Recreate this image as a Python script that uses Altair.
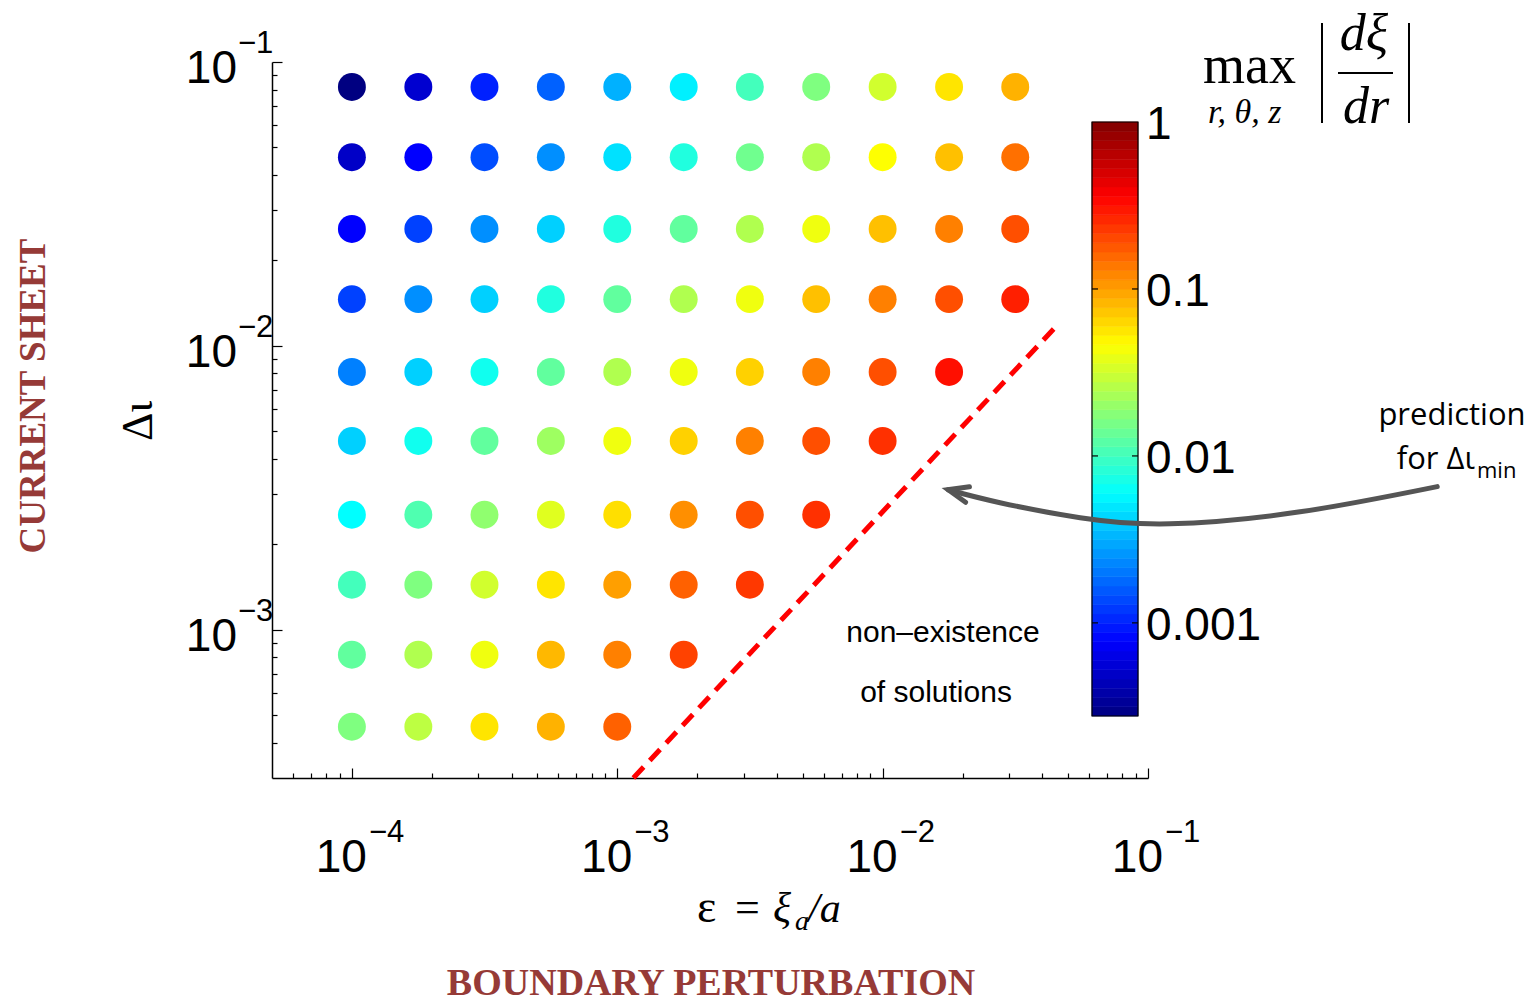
import math

import altair as alt
import pandas as pd

# ---------------------------------------------------------------- data ----
# boundary perturbation amplitude (columns) and current-sheet width (rows)
EPSILON = [1.0e-4, 1.78e-4, 3.16e-4, 5.62e-4, 1.0e-3, 1.78e-3,
           3.16e-3, 5.62e-3, 1.0e-2, 1.78e-2, 3.16e-2]
DELTA_IOTA = [8.17e-2, 4.62e-2, 2.58e-2, 1.46e-2, 8.09e-3,
              4.62e-3, 2.54e-3, 1.44e-3, 8.16e-4, 4.55e-4]

# max |d xi / dr| for every converged case, one list per row (top to bottom)
MAX_SLOPE = [
    [2.8e-4, 5.3e-4, 1.0e-3, 1.68e-3, 3.2e-3, 5.3e-3, 1.02e-2, 1.66e-2, 3.2e-2, 5.7e-2, 8.6e-2],
    [4.9e-4, 7.7e-4, 1.43e-3, 2.43e-3, 4.7e-3, 7.7e-3, 1.47e-2, 2.45e-2, 4.6e-2, 7.7e-2, 0.146],
    [7.7e-4, 1.3e-3, 2.43e-3, 4.1e-3, 7.7e-3, 1.30e-2, 2.45e-2, 4.1e-2, 7.7e-2, 0.129, 0.19],
    [1.3e-3, 2.43e-3, 4.1e-3, 7.7e-3, 1.30e-2, 2.45e-2, 4.1e-2, 7.7e-2, 0.129, 0.19, 0.279],
    [2.15e-3, 4.1e-3, 6.8e-3, 1.30e-2, 2.45e-2, 4.1e-2, 6.7e-2, 0.129, 0.19, 0.318],
    [4.1e-3, 6.8e-3, 1.30e-2, 2.13e-2, 4.1e-2, 6.7e-2, 0.129, 0.19, 0.244],
    [6.0e-3, 1.13e-2, 1.90e-2, 3.6e-2, 6.0e-2, 0.114, 0.19, 0.244],
    [1.02e-2, 1.66e-2, 3.2e-2, 5.7e-2, 0.1, 0.165, 0.229],
    [1.30e-2, 2.45e-2, 4.1e-2, 8.2e-2, 0.129, 0.211],
    [1.66e-2, 2.72e-2, 5.7e-2, 8.6e-2, 0.165],
]

# predicted minimum current-sheet width
PREDICTION_EPS = [1.15e-3, 4.58e-2]
PREDICTION_IOTA = [3.0e-4, 1.19e-2]

# annotation arrow pointing at the prediction line
ARROW_EPS = [1.23, 0.374, 0.121, 0.0555, 0.0277, 0.01764]
ARROW_IOTA = [3.19e-3, 2.60e-3, 2.36e-3, 2.48e-3, 2.80e-3, 3.11e-3]
ARROW_HEAD_EPS = [0.0192]
ARROW_HEAD_IOTA = [3.05e-3]

# axis ticks
X_TICKS = [1e-4, 1e-3, 1e-2, 1e-1]
X_EXPONENTS = ["\u22124", "\u22123", "\u22122", "\u22121"]
Y_TICKS = [1e-3, 1e-2, 1e-1]
Y_EXPONENTS = ["\u22123", "\u22122", "\u22121"]
MULTIPLIERS = [2, 3, 4, 5, 6, 7, 8, 9]
X_MINOR = [6e-5, 7e-5, 8e-5, 9e-5] + [m * d for d in (1e-4, 1e-3, 1e-2) for m in MULTIPLIERS]
Y_MINOR = [4e-4, 5e-4, 6e-4, 7e-4, 8e-4, 9e-4] + [m * d for d in (1e-3, 1e-2) for m in MULTIPLIERS]

# colour bar
COLORBAR_MIN, COLORBAR_MAX = 2.77e-4, 1.0
COLORBAR_TICKS = [0.001, 0.01, 0.1]
COLORBAR_LABELS = ["1", "0.1", "0.01", "0.001"]
COLORBAR_LABEL_VALUES = [1.0, 0.1, 0.01, 0.001]
COLORBAR_BANDS = 64
JET_POSITIONS = [0.0, 0.125, 0.375, 0.625, 0.875, 1.0]
JET_COLORS = ["#000080", "#0000ff", "#00ffff", "#ffff00", "#ff0000", "#800000"]

# ------------------------------------------------------------- styling ----
SANS = "Liberation Sans"
SERIF = "Liberation Serif"
CALLOUT = "Open Sans"
DARK_RED = "#963a37"
GREY = "#555555"
W, H = 876, 716
CB_LEFT, CB_RIGHT, CB_TOP, CB_BOTTOM = 820, 866, 60, 654

dots_df = pd.DataFrame(
    [{"eps": EPSILON[j], "iota": DELTA_IOTA[i], "slope": v}
     for i, row in enumerate(MAX_SLOPE) for j, v in enumerate(row)]
)
pred_df = pd.DataFrame({"eps": PREDICTION_EPS, "iota": PREDICTION_IOTA})
arrow_df = pd.DataFrame({"eps": ARROW_EPS, "iota": ARROW_IOTA, "k": range(len(ARROW_EPS))})
head_df = pd.DataFrame({"eps": ARROW_HEAD_EPS, "iota": ARROW_HEAD_IOTA})
xlab_df = pd.DataFrame({"tick": X_TICKS, "base": ["10"] * len(X_TICKS), "exp": X_EXPONENTS})
ylab_df = pd.DataFrame({"tick": Y_TICKS, "base": ["10"] * len(Y_TICKS), "exp": Y_EXPONENTS})

lo, hi = COLORBAR_MIN, COLORBAR_MAX
edges = [lo * (hi / lo) ** (i / COLORBAR_BANDS) for i in range(COLORBAR_BANDS + 1)]
bands_df = pd.DataFrame({
    "lo": edges[:-1], "hi": edges[1:],
    "slope": [math.sqrt(a * b) for a, b in zip(edges[:-1], edges[1:])],
})
frame_df = pd.DataFrame({"lo": [lo], "hi": [hi]})
cb_tick_df = pd.DataFrame({"v": COLORBAR_TICKS})
cb_label_df = pd.DataFrame({"v": COLORBAR_LABEL_VALUES, "label": COLORBAR_LABELS})

x_scale = alt.Scale(type="log", domain=[5e-5, 0.1], nice=False)
y_scale = alt.Scale(type="log", domain=[3e-4, 0.1], nice=False)
cb_scale = alt.Scale(type="log", domain=[lo, hi], range=[CB_BOTTOM, CB_TOP], nice=False)

# jet colormap laid out on a log axis between the colour-bar limits
jet_domain = [lo * (hi / lo) ** p for p in JET_POSITIONS]
color_scale = alt.Scale(type="log", domain=jet_domain, range=JET_COLORS, interpolate="rgb")


def frame_axis(orient):
    return alt.Axis(orient=orient, domain=True, domainColor="black", domainWidth=1.5,
                    ticks=False, labels=False, grid=False, title=None)


def tick_axis(orient, values, size):
    # ticks drawn inward by pulling the axis back into the plot
    return alt.Axis(orient=orient, values=values, domain=False, ticks=True,
                    tickSize=size, tickColor="black", tickWidth=1.2, offset=-size,
                    labels=False, grid=False, title=None)


one = alt.Data(values=[{}])

dots = alt.Chart(dots_df).mark_circle(size=780, opacity=1).encode(
    x=alt.X("eps:Q", scale=x_scale, axis=frame_axis("bottom")),
    y=alt.Y("iota:Q", scale=y_scale, axis=frame_axis("left")),
    color=alt.Color("slope:Q", scale=color_scale, legend=None),
)

prediction = alt.Chart(pred_df).mark_line(
    color="#ff0000", strokeWidth=5, strokeDash=[15, 9]
).encode(
    x=alt.X("eps:Q", scale=x_scale, axis=tick_axis("bottom", X_TICKS, 10)),
    y=alt.Y("iota:Q", scale=y_scale, axis=tick_axis("left", Y_TICKS, 10)),
)

# colour bar: 64 jet bands, frame, ticks and labels
cb_bands = alt.Chart(bands_df).mark_rect(strokeWidth=0.6).encode(
    x=alt.value(CB_LEFT), x2=alt.value(CB_RIGHT),
    y=alt.Y("lo:Q", scale=cb_scale, axis=None), y2="hi:Q",
    color=alt.Color("slope:Q", scale=color_scale, legend=None),
    stroke=alt.Stroke("slope:Q", scale=color_scale, legend=None),
)
cb_frame = alt.Chart(frame_df).mark_rect(filled=False, stroke="black", strokeWidth=1.2).encode(
    x=alt.value(CB_LEFT), x2=alt.value(CB_RIGHT),
    y=alt.Y("lo:Q", scale=cb_scale, axis=None), y2="hi:Q",
)
cb_ticks_left = alt.Chart(cb_tick_df).mark_rule(color="black", strokeWidth=1.2).encode(
    x=alt.value(CB_LEFT), x2=alt.value(CB_LEFT + 6),
    y=alt.Y("v:Q", scale=cb_scale, axis=None),
)
cb_ticks_right = alt.Chart(cb_tick_df).mark_rule(color="black", strokeWidth=1.2).encode(
    x=alt.value(CB_RIGHT - 6), x2=alt.value(CB_RIGHT),
    y=alt.Y("v:Q", scale=cb_scale, axis=None),
)
cb_labels = alt.Chart(cb_label_df).mark_text(
    font=SANS, fontSize=46, align="left", baseline="middle", dy=3, color="black"
).encode(
    x=alt.value(CB_RIGHT + 8),
    y=alt.Y("v:Q", scale=cb_scale, axis=None),
    text="label:N",
)

arrow = alt.Chart(arrow_df).mark_line(
    color=GREY, strokeWidth=5, interpolate="natural", strokeCap="round"
).encode(
    x=alt.X("eps:Q", scale=x_scale, axis=tick_axis("bottom", X_MINOR, 5)),
    y=alt.Y("iota:Q", scale=y_scale, axis=tick_axis("left", Y_MINOR, 5)),
    order="k:Q",
)

arrow_head = alt.Chart(head_df).mark_point(
    shape="M 1 -0.8 L -1 0 L 1 0.8", size=400, angle=14, filled=False,
    strokeWidth=5, color=GREY, opacity=1, strokeCap="round", strokeJoin="miter",
).encode(
    x=alt.X("eps:Q", scale=x_scale, axis=None),
    y=alt.Y("iota:Q", scale=y_scale, axis=None),
)

# tick labels as powers of ten
x_base = alt.Chart(xlab_df).mark_text(
    font=SANS, fontSize=46, align="right", baseline="alphabetic", dx=15, color="black"
).encode(x=alt.X("tick:Q", scale=x_scale, axis=None), y=alt.value(810), text="base:N")
x_exp = alt.Chart(xlab_df).mark_text(
    font=SANS, fontSize=31, align="left", baseline="alphabetic", dx=17, color="black"
).encode(x=alt.X("tick:Q", scale=x_scale, axis=None), y=alt.value(780), text="exp:N")
y_base = alt.Chart(ylab_df).mark_text(
    font=SANS, fontSize=46, align="right", baseline="alphabetic", dy=21, color="black"
).encode(y=alt.Y("tick:Q", scale=y_scale, axis=None), x=alt.value(-35), text="base:N")
y_exp = alt.Chart(ylab_df).mark_text(
    font=SANS, fontSize=31, align="left", baseline="alphabetic", dy=-9, color="black"
).encode(y=alt.Y("tick:Q", scale=y_scale, axis=None), x=alt.value(-34), text="exp:N")


def label(text, x, y, size, font=SERIF, align="left", style="normal",
          weight="normal", color="black", angle=0):
    return alt.Chart(one).mark_text(
        text=text, font=font, fontSize=size, align=align, baseline="alphabetic",
        fontStyle=style, fontWeight=weight, color=color, angle=angle,
    ).encode(x=alt.value(x), y=alt.value(y))


def rule(x, y, x2=None, y2=None, width=2):
    enc = {"x": alt.value(x), "y": alt.value(y)}
    if x2 is not None:
        enc["x2"] = alt.value(x2)
    if y2 is not None:
        enc["y2"] = alt.value(y2)
    return alt.Chart(one).mark_rule(color="black", strokeWidth=width).encode(**enc)


texts = [
    # in-plot annotation
    label("non\u2013existence", 671, 580, 30, font=SANS, align="center"),
    label("of solutions", 664, 640, 30, font=SANS, align="center"),
    # callout for the prediction line
    label("prediction", 1180, 363, 31, font=CALLOUT, align="center"),
    label("for \u0394\u03b9", 1203, 407, 31, font=CALLOUT, align="right"),
    label("min", 1205, 416, 22, font=CALLOUT),
    # axis titles
    label("\u0394\u03b9", -120, 359, 44, align="center", angle=270),
    label("\u03b5", 425, 860, 46),
    label("=", 463, 860, 44),
    label("\u03be", 501, 860, 42, style="italic"),
    label("a", 523, 868, 28, style="italic"),
    label("/a", 536, 860, 42, style="italic"),
    # section captions
    label("CURRENT SHEET", -227, 334, 37, align="center", weight="bold",
          color=DARK_RED, angle=270),
    label("BOUNDARY PERTURBATION", 439, 933, 38, align="center", weight="bold",
          color=DARK_RED),
    # colour-bar title: max over r, theta, z of |d xi / dr|
    label("max", 931, 21, 54),
    label("r, \u03b8, z", 936, 61, 34, style="italic"),
    label("d\u03be", 1092, -12, 52, align="center", style="italic"),
    label("dr", 1094, 61, 52, align="center", style="italic"),
    rule(1050, -39, y2=61),
    rule(1137, -39, y2=61),
    rule(1066, 11, x2=1121),
]

chart = alt.layer(
    dots, prediction, cb_bands, cb_frame, cb_ticks_left, cb_ticks_right, cb_labels,
    arrow, arrow_head, x_base, x_exp, y_base, y_exp, *texts
).resolve_scale(
    y="independent"
).resolve_axis(
    x="independent", y="independent"
).properties(
    width=W, height=H,
    padding={"left": 272, "top": 62, "right": 386, "bottom": 227},
    autosize=alt.AutoSizeParams(type="none"),
    background="white",
).configure_view(stroke=None)

chart.save("out.html", embed_options={"renderer": "svg", "actions": False})
